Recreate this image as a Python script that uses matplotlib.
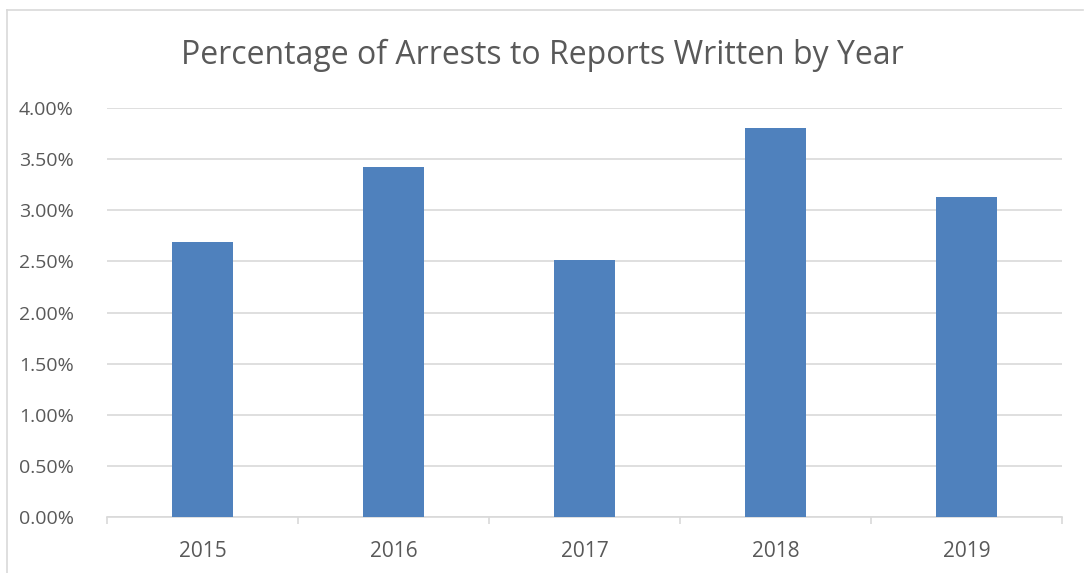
import matplotlib.pyplot as plt
from matplotlib.ticker import FuncFormatter, FixedLocator
from matplotlib.lines import Line2D

years = ["2015", "2016", "2017", "2018", "2019"]
arrest_pct = [2.69, 3.42, 2.51, 3.80, 3.13]

plt.rcParams['font.family'] = ['Open Sans', 'DejaVu Sans']

fig = plt.figure(figsize=(10.84, 5.73), dpi=100)
ax = fig.add_axes([0.0987, 0.0977, 0.8810, 0.7138])

x = list(range(len(years)))
ax.bar(x, arrest_pct, width=0.315, color="#4f81bd", zorder=3)

ax.set_xlim(-0.5, len(years) - 0.5)
ax.set_ylim(0, 4.0)
ax.set_yticks([i * 0.5 for i in range(9)])
ax.yaxis.set_major_formatter(FuncFormatter(lambda v, _: f"{v:.2f}%"))
ax.set_xticks(x)
ax.set_xticklabels(years)
ax.xaxis.set_minor_locator(FixedLocator([i - 0.5 for i in range(len(years) + 1)]))

ax.grid(axis="y", color="#d9d9d9", linewidth=1.2, zorder=0)
for s in ["top", "right", "left"]:
    ax.spines[s].set_visible(False)
ax.spines["bottom"].set_color("#d9d9d9")
ax.spines["bottom"].set_linewidth(1.2)

ax.tick_params(axis="y", length=0, pad=24, labelsize=14, labelcolor="#595959")
ax.tick_params(axis="x", which="major", length=0, pad=17, labelsize=15, labelcolor="#595959")
ax.tick_params(axis="x", which="minor", length=5, width=1.2, color="#d9d9d9")

fig.text(0.5, 0.903, "Percentage of Arrests to Reports Written by Year",
         ha="center", va="center", fontsize=23, color="#595959")

# chart border
fig.add_artist(Line2D([0.0065, 0.0065], [0.0, 0.983], color="#d9d9d9", lw=1.2))
fig.add_artist(Line2D([0.0065, 0.999], [0.983, 0.983], color="#d9d9d9", lw=1.2))

fig.savefig("out.png", dpi=100)
